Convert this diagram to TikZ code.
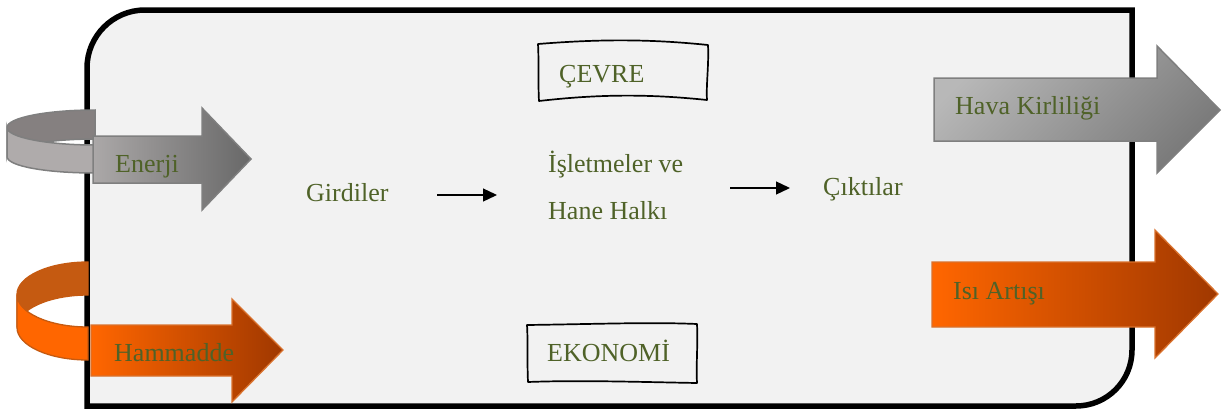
\documentclass[tikz,border=0pt]{standalone}
\usepackage{fontspec}
\setmainfont{Liberation Serif}
\usetikzlibrary{arrows.meta}
\definecolor{txt}{HTML}{4F6228}
\definecolor{boxfill}{HTML}{F2F2F2}
\definecolor{grayL}{HTML}{ABA8A8}
\definecolor{grayD}{HTML}{686868}
\definecolor{grayB}{HTML}{858080}
\definecolor{grayF}{HTML}{AFABAB}
\definecolor{grayLine}{HTML}{7F7F7F}
\definecolor{hvL}{HTML}{B8B8B8}
\definecolor{hvD}{HTML}{7A7A7A}
\definecolor{orL}{HTML}{FF6600}
\definecolor{orD}{HTML}{A03800}
\definecolor{orB}{HTML}{C55A11}
\definecolor{orLine}{HTML}{D9722E}
\begin{document}
\begin{tikzpicture}[x=1pt,y=-1pt,
  lbl/.style={font=\fontsize{26}{30}\selectfont, text=txt, inner sep=0pt, anchor=base west},
  mainbox/.style={line width=5.5pt, draw=black, fill=boxfill},
  sketchbox/.style={draw=black, line width=1.7pt, line join=round},
  grayarrow/.style={draw=grayLine, line width=1.5pt, left color=grayL, right color=grayD},
  hvarrow/.style={draw=grayLine, line width=1.5pt, top color=hvL, bottom color=hvD, shading angle=45},
  orarrow/.style={draw=orLine, line width=1.3pt, left color=orL, right color=orD},
  graycurlback/.style={draw=grayLine, line width=1.5pt, fill=grayB},
  graycurlfront/.style={draw=grayLine, line width=1.5pt, fill=grayF},
  orcurlback/.style={draw=orB, line width=1.3pt, fill=orB},
  orcurlfront/.style={draw=orB, line width=1.3pt, fill=orL},
  flow/.style={line width=1.3pt, -{Triangle[length=14pt,width=13pt]}}
]
\useasboundingbox (0,0) rectangle (1224,410);

% main frame
\path[mainbox] (87,406) -- (87,68) .. controls (87,36) and (113,10) .. (145,10) -- (1132,10) -- (1132,350) .. controls (1132,381) and (1107,406) .. (1076,406) -- cycle;

% Enerji curl
\path[graycurlback] (95,110) .. controls (46.4,110) and (7,117.8) .. (7,127.5) -- (7,156.5) .. controls (7,146.8) and (46.4,139) .. (95,139) -- cycle;
\path[graycurlfront] (7,127.5) .. controls (7,137.2) and (46.4,145) .. (95,145) -- (95,173) .. controls (46.4,173) and (7,166.2) .. (7,156.5) -- cycle;
% Enerji arrow
\path[grayarrow] (93,136) -- (202,136) -- (202,108) -- (251,159) -- (202,210) -- (202,183) -- (93,183) -- cycle;
\node[lbl] (enerji) at (115,172) {Enerji};

% Hammadde curl
\path[orcurlback] (88,262) .. controls (48.8,262) and (17,276.5) .. (17,294.5) -- (17,327.5) .. controls (17,309.5) and (48.8,295) .. (88,295) -- cycle;
\path[orcurlfront] (17,294.5) .. controls (17,312.5) and (48.8,327) .. (88,327) -- (88,360) .. controls (48.8,360) and (17,345.5) .. (17,327.5) -- cycle;
% Hammadde arrow
\path[orarrow] (91,325) -- (232,325) -- (232,299) -- (283,350) -- (232,402) -- (232,376) -- (91,376) -- cycle;
\node[lbl] (hammadde) at (114,361) {Hammadde};

% output arrows
\path[hvarrow] (934,78) -- (1157,78) -- (1157,46) -- (1220,110) -- (1157,173) -- (1157,141) -- (934,141) -- cycle;
\node[lbl] (hava) at (955,114) {Hava Kirliliği};
\path[orarrow] (932,262) -- (1155,262) -- (1155,230) -- (1218,294) -- (1155,358) -- (1155,327) -- (932,327) -- cycle;
\node[lbl] (isi) at (953,299) {Isı Artışı};

% sketch boxes
\path[sketchbox] (538,44) .. controls (600,39) and (650,39) .. (708,45) .. controls (709,65) and (706,85) .. (707,100) .. controls (650,94) and (600,94) .. (539,101) .. controls (538,85) and (539,62) .. (538,44) -- cycle;
\node[lbl] (cevre) at (559,82) {ÇEVRE};
\path[sketchbox] (527,325) .. controls (600,324) and (650,322) .. (697,324) .. controls (698,345) and (696,365) .. (697,383) .. controls (640,382) and (580,380) .. (528,382) .. controls (527,360) and (528,340) .. (527,325) -- cycle;
\node[lbl] (ekonomi) at (547,361) {EKONOMİ};

% middle flow
\node[lbl] (girdiler) at (306,201) {Girdiler};
\node[lbl] (isletme) at (548,172) {İşletmeler ve};
\node[lbl] (hane) at (548,219) {Hane Halkı};
\node[lbl] (ciktilar) at (823,195) {Çıktılar};
\coordinate (a1s) at (437,195);
\coordinate (a1e) at (497,195);
\coordinate (a2s) at (730,188);
\coordinate (a2e) at (790,188);
\draw[flow] (a1s) -- (a1e);
\draw[flow] (a2s) -- (a2e);
\end{tikzpicture}
\end{document}
